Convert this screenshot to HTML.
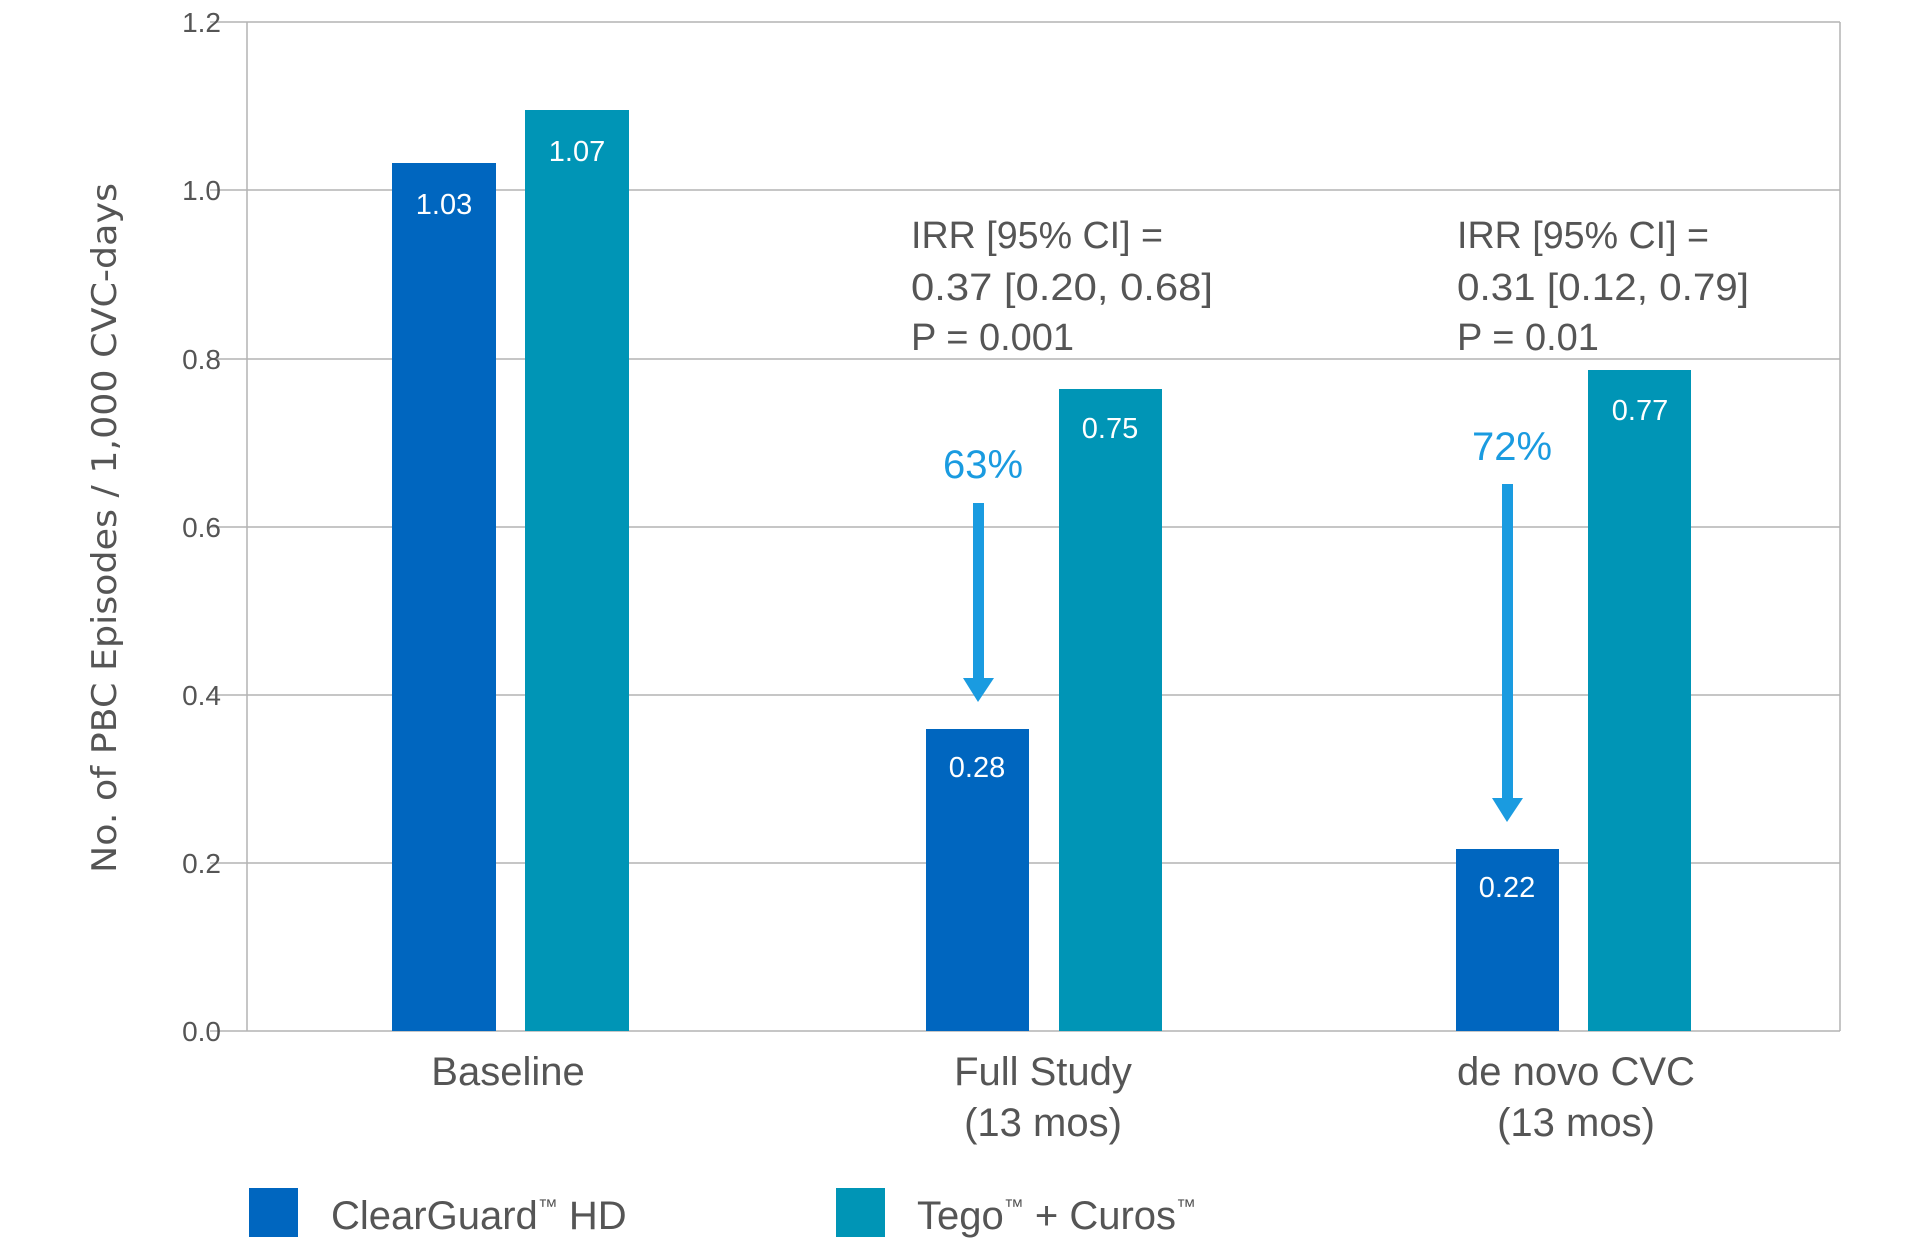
<!DOCTYPE html>
<html><head><meta charset="utf-8"><style>
html,body{margin:0;padding:0;background:#fff;}
svg{display:block;font-family:"Liberation Sans",sans-serif;}
</style></head><body>
<svg width="1920" height="1245" viewBox="0 0 1920 1245">
<g stroke="#b4b4b4" stroke-width="1.5">
<line x1="210" y1="22" x2="1840" y2="22"/>
<line x1="210" y1="190" x2="1840" y2="190"/>
<line x1="210" y1="359" x2="1840" y2="359"/>
<line x1="210" y1="527" x2="1840" y2="527"/>
<line x1="210" y1="695" x2="1840" y2="695"/>
<line x1="210" y1="863" x2="1840" y2="863"/>
<line x1="210" y1="1031" x2="1840" y2="1031"/>
<line x1="247" y1="22" x2="247" y2="1031"/>
<line x1="1840" y1="22" x2="1840" y2="1031"/>
</g>
<g fill="#555" font-size="28" text-anchor="end">
<text x="221" y="32">1.2</text>
<text x="221" y="200">1.0</text>
<text x="221" y="369">0.8</text>
<text x="221" y="537">0.6</text>
<text x="221" y="705">0.4</text>
<text x="221" y="873">0.2</text>
<text x="221" y="1041">0.0</text>
</g>
<text transform="translate(116,528) rotate(-90)" text-anchor="middle" fill="#555" font-family="DejaVu Sans,sans-serif" font-size="34" textLength="690" lengthAdjust="spacingAndGlyphs">No. of PBC Episodes / 1,000 CVC-days</text>
<g>
<rect x="392" y="163" width="104" height="868" fill="#0066bf"/>
<rect x="525" y="110" width="104" height="921" fill="#0095b6"/>
<rect x="926" y="729" width="103" height="302" fill="#0066bf"/>
<rect x="1059" y="389" width="103" height="642" fill="#0095b6"/>
<rect x="1456" y="849" width="103" height="182" fill="#0066bf"/>
<rect x="1588" y="370" width="103" height="661" fill="#0095b6"/>
</g>
<g fill="#fff" font-size="29" text-anchor="middle">
<text x="444" y="214">1.03</text>
<text x="577" y="161">1.07</text>
<text x="977" y="777">0.28</text>
<text x="1110" y="438">0.75</text>
<text x="1507" y="897">0.22</text>
<text x="1640" y="420">0.77</text>
</g>
<g fill="#555" font-size="38">
<text x="911" y="248" textLength="252" lengthAdjust="spacingAndGlyphs">IRR [95% CI] =</text>
<text x="911" y="300" textLength="302" lengthAdjust="spacingAndGlyphs">0.37 [0.20, 0.68]</text>
<text x="911" y="350">P = 0.001</text>
<text x="1457" y="248" textLength="252" lengthAdjust="spacingAndGlyphs">IRR [95% CI] =</text>
<text x="1457" y="300" textLength="292" lengthAdjust="spacingAndGlyphs">0.31 [0.12, 0.79]</text>
<text x="1457" y="350">P = 0.01</text>
</g>
<g fill="#1a9be0">
<text x="983" y="478" font-size="40" text-anchor="middle">63%</text>
<text x="1512" y="460" font-size="40" text-anchor="middle">72%</text>
<rect x="973" y="503" width="11" height="177"/>
<polygon points="963,678 994,678 978,702"/>
<rect x="1502" y="484" width="11" height="316"/>
<polygon points="1492,798 1523,798 1507,822"/>
</g>
<g fill="#555" font-size="40" text-anchor="middle">
<text x="508" y="1085">Baseline</text>
<text x="1043" y="1085">Full Study</text>
<text x="1043" y="1136">(13 mos)</text>
<text x="1576" y="1085">de novo CVC</text>
<text x="1576" y="1136">(13 mos)</text>
</g>
<rect x="249" y="1188" width="49" height="49" fill="#0066bf"/>
<rect x="836" y="1188" width="49" height="49" fill="#0095b6"/>
<g fill="#555" font-size="40">
<text x="331" y="1229">ClearGuard<tspan font-size="20" dy="-16">™</tspan><tspan dy="16"> HD</tspan></text>
<text x="917" y="1229">Tego<tspan font-size="20" dy="-16">™</tspan><tspan dy="16"> + Curos</tspan><tspan font-size="20" dy="-16">™</tspan></text>
</g>
</svg>
</body></html>
